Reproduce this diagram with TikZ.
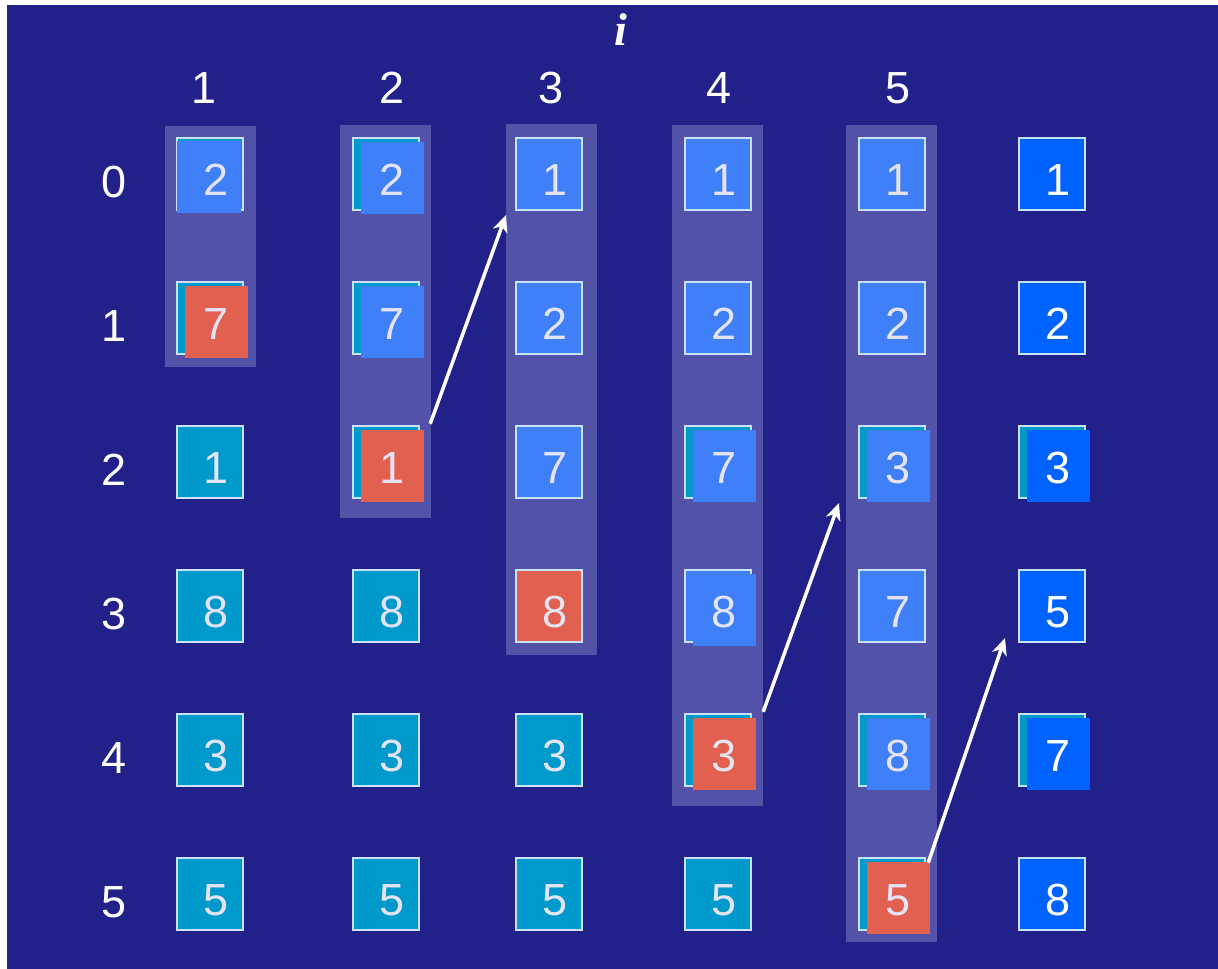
\documentclass[tikz,border=0pt]{standalone}
\usepackage{fontspec}
\setmainfont{Liberation Sans}
\newfontfamily\tnr{Liberation Serif}
\usetikzlibrary{arrows.meta}
\definecolor{bg}{HTML}{212189}
\definecolor{hl}{HTML}{5252A8}
\definecolor{tealc}{HTML}{0099CC}
\definecolor{bluec}{HTML}{3F7FF7}
\definecolor{redc}{HTML}{E26050}
\definecolor{brightc}{HTML}{0062FF}
\definecolor{edgec}{HTML}{C8E2F8}
\definecolor{digc}{HTML}{E4E4F4}
\tikzset{
 backsq/.style={rectangle, minimum width=66pt, minimum height=72pt, inner sep=0pt, draw=edgec, line width=2pt},
 frontsq/.style={rectangle, minimum width=63pt, minimum height=72pt, inner sep=0pt},
 digit/.style={inner sep=0pt, font=\fontsize{45}{45}\selectfont},
 lab/.style={inner sep=0pt, text=white, font=\fontsize{45}{45}\selectfont},
 hlbox/.style={fill=hl},
 arr/.style={white, line width=3.5pt, -{Stealth[length=17pt,width=15pt,inset=5pt]}},
}
\newcommand\mycell[7]{%
  \node[backsq, fill=#4] (b#1) at (#2,#3) {};
  \def\myfront{#5}\def\mynone{none}%
  \ifx\myfront\mynone\else
    \node[frontsq, fill=#5] (f#1) at (#2+6.5,#3+4) {};
  \fi
  \node[digit, text=#7] (t#1) at (#2+6,#3+6) {#6};
}
\begin{document}
\begin{tikzpicture}[x=1pt,y=-1pt]
\useasboundingbox (0,0) rectangle (1218,969);
\fill[white] (0,0) rectangle (1218,969);
\fill[bg] (7,5) rectangle (1218,969);
% highlighted columns
\fill[hlbox] (165,126) rectangle (256,367);
\fill[hlbox] (340,125) rectangle (431,518);
\fill[hlbox] (506,124) rectangle (597,655);
\fill[hlbox] (672,125) rectangle (763,806);
\fill[hlbox] (846,125) rectangle (937,942);
% header
\node[inner sep=0pt, text=white, font=\tnr\bfseries\itshape\fontsize{46}{46}\selectfont] (ihead) at (621,30) {i};
\node[lab] (c1) at (204,88) {1};
\node[lab] (c2) at (392,88) {2};
\node[lab] (c3) at (551,88) {3};
\node[lab] (c4) at (719,88) {4};
\node[lab] (c5) at (898,88) {5};
\node[lab] (r0) at (114,182) {0};
\node[lab] (r1) at (114,326) {1};
\node[lab] (r2) at (114,470) {2};
\node[lab] (r3) at (114,614) {3};
\node[lab] (r4) at (114,758) {4};
\node[lab] (r5) at (114,902) {5};
% column 1
\node[backsq, fill=tealc] (b10) at (210,174) {};
\node[frontsq, fill=bluec, minimum width=64pt] (f10) at (209,177) {};
\node[digit, text=digc] (t10) at (216,180) {2};
\mycell{11}{210}{318}{tealc}{redc}{7}{digc}
\mycell{12}{210}{462}{tealc}{none}{1}{digc}
\mycell{13}{210}{606}{tealc}{none}{8}{digc}
\mycell{14}{210}{750}{tealc}{none}{3}{digc}
\mycell{15}{210}{894}{tealc}{none}{5}{digc}
% column 2
\mycell{20}{386}{174}{tealc}{bluec}{2}{digc}
\mycell{21}{386}{318}{tealc}{bluec}{7}{digc}
\mycell{22}{386}{462}{tealc}{redc}{1}{digc}
\mycell{23}{386}{606}{tealc}{none}{8}{digc}
\mycell{24}{386}{750}{tealc}{none}{3}{digc}
\mycell{25}{386}{894}{tealc}{none}{5}{digc}
% column 3
\mycell{30}{549}{174}{bluec}{none}{1}{digc}
\mycell{31}{549}{318}{bluec}{none}{2}{digc}
\mycell{32}{549}{462}{bluec}{none}{7}{digc}
\mycell{33}{549}{606}{redc}{none}{8}{digc}
\mycell{34}{549}{750}{tealc}{none}{3}{digc}
\mycell{35}{549}{894}{tealc}{none}{5}{digc}
% column 4
\mycell{40}{718}{174}{bluec}{none}{1}{digc}
\mycell{41}{718}{318}{bluec}{none}{2}{digc}
\mycell{42}{718}{462}{tealc}{bluec}{7}{digc}
\mycell{43}{718}{606}{bluec}{bluec}{8}{digc}
\mycell{44}{718}{750}{tealc}{redc}{3}{digc}
\mycell{45}{718}{894}{tealc}{none}{5}{digc}
% column 5
\mycell{50}{892}{174}{bluec}{none}{1}{digc}
\mycell{51}{892}{318}{bluec}{none}{2}{digc}
\mycell{52}{892}{462}{tealc}{bluec}{3}{digc}
\mycell{53}{892}{606}{bluec}{none}{7}{digc}
\mycell{54}{892}{750}{tealc}{bluec}{8}{digc}
\mycell{55}{892}{894}{tealc}{redc}{5}{digc}
% column 6
\mycell{60}{1052}{174}{brightc}{none}{1}{white}
\mycell{61}{1052}{318}{brightc}{none}{2}{white}
\mycell{62}{1052}{462}{tealc}{brightc}{3}{white}
\mycell{63}{1052}{606}{brightc}{none}{5}{white}
\mycell{64}{1052}{750}{tealc}{brightc}{7}{white}
\mycell{65}{1052}{894}{brightc}{none}{8}{white}
% arrows
\draw[arr] ([xshift=6pt,yshift=6pt]f22.north east) -- ([xshift=-9pt,yshift=-4pt]b30.south west);
\draw[arr] ([xshift=7pt,yshift=6pt]f44.north east) -- ([xshift=-19pt,yshift=-4pt]b52.south west);
\draw[arr] ([xshift=-2pt,yshift=-1pt]f55.north east) -- ([xshift=-13pt,yshift=5pt]b63.south west);
\end{tikzpicture}
\end{document}
